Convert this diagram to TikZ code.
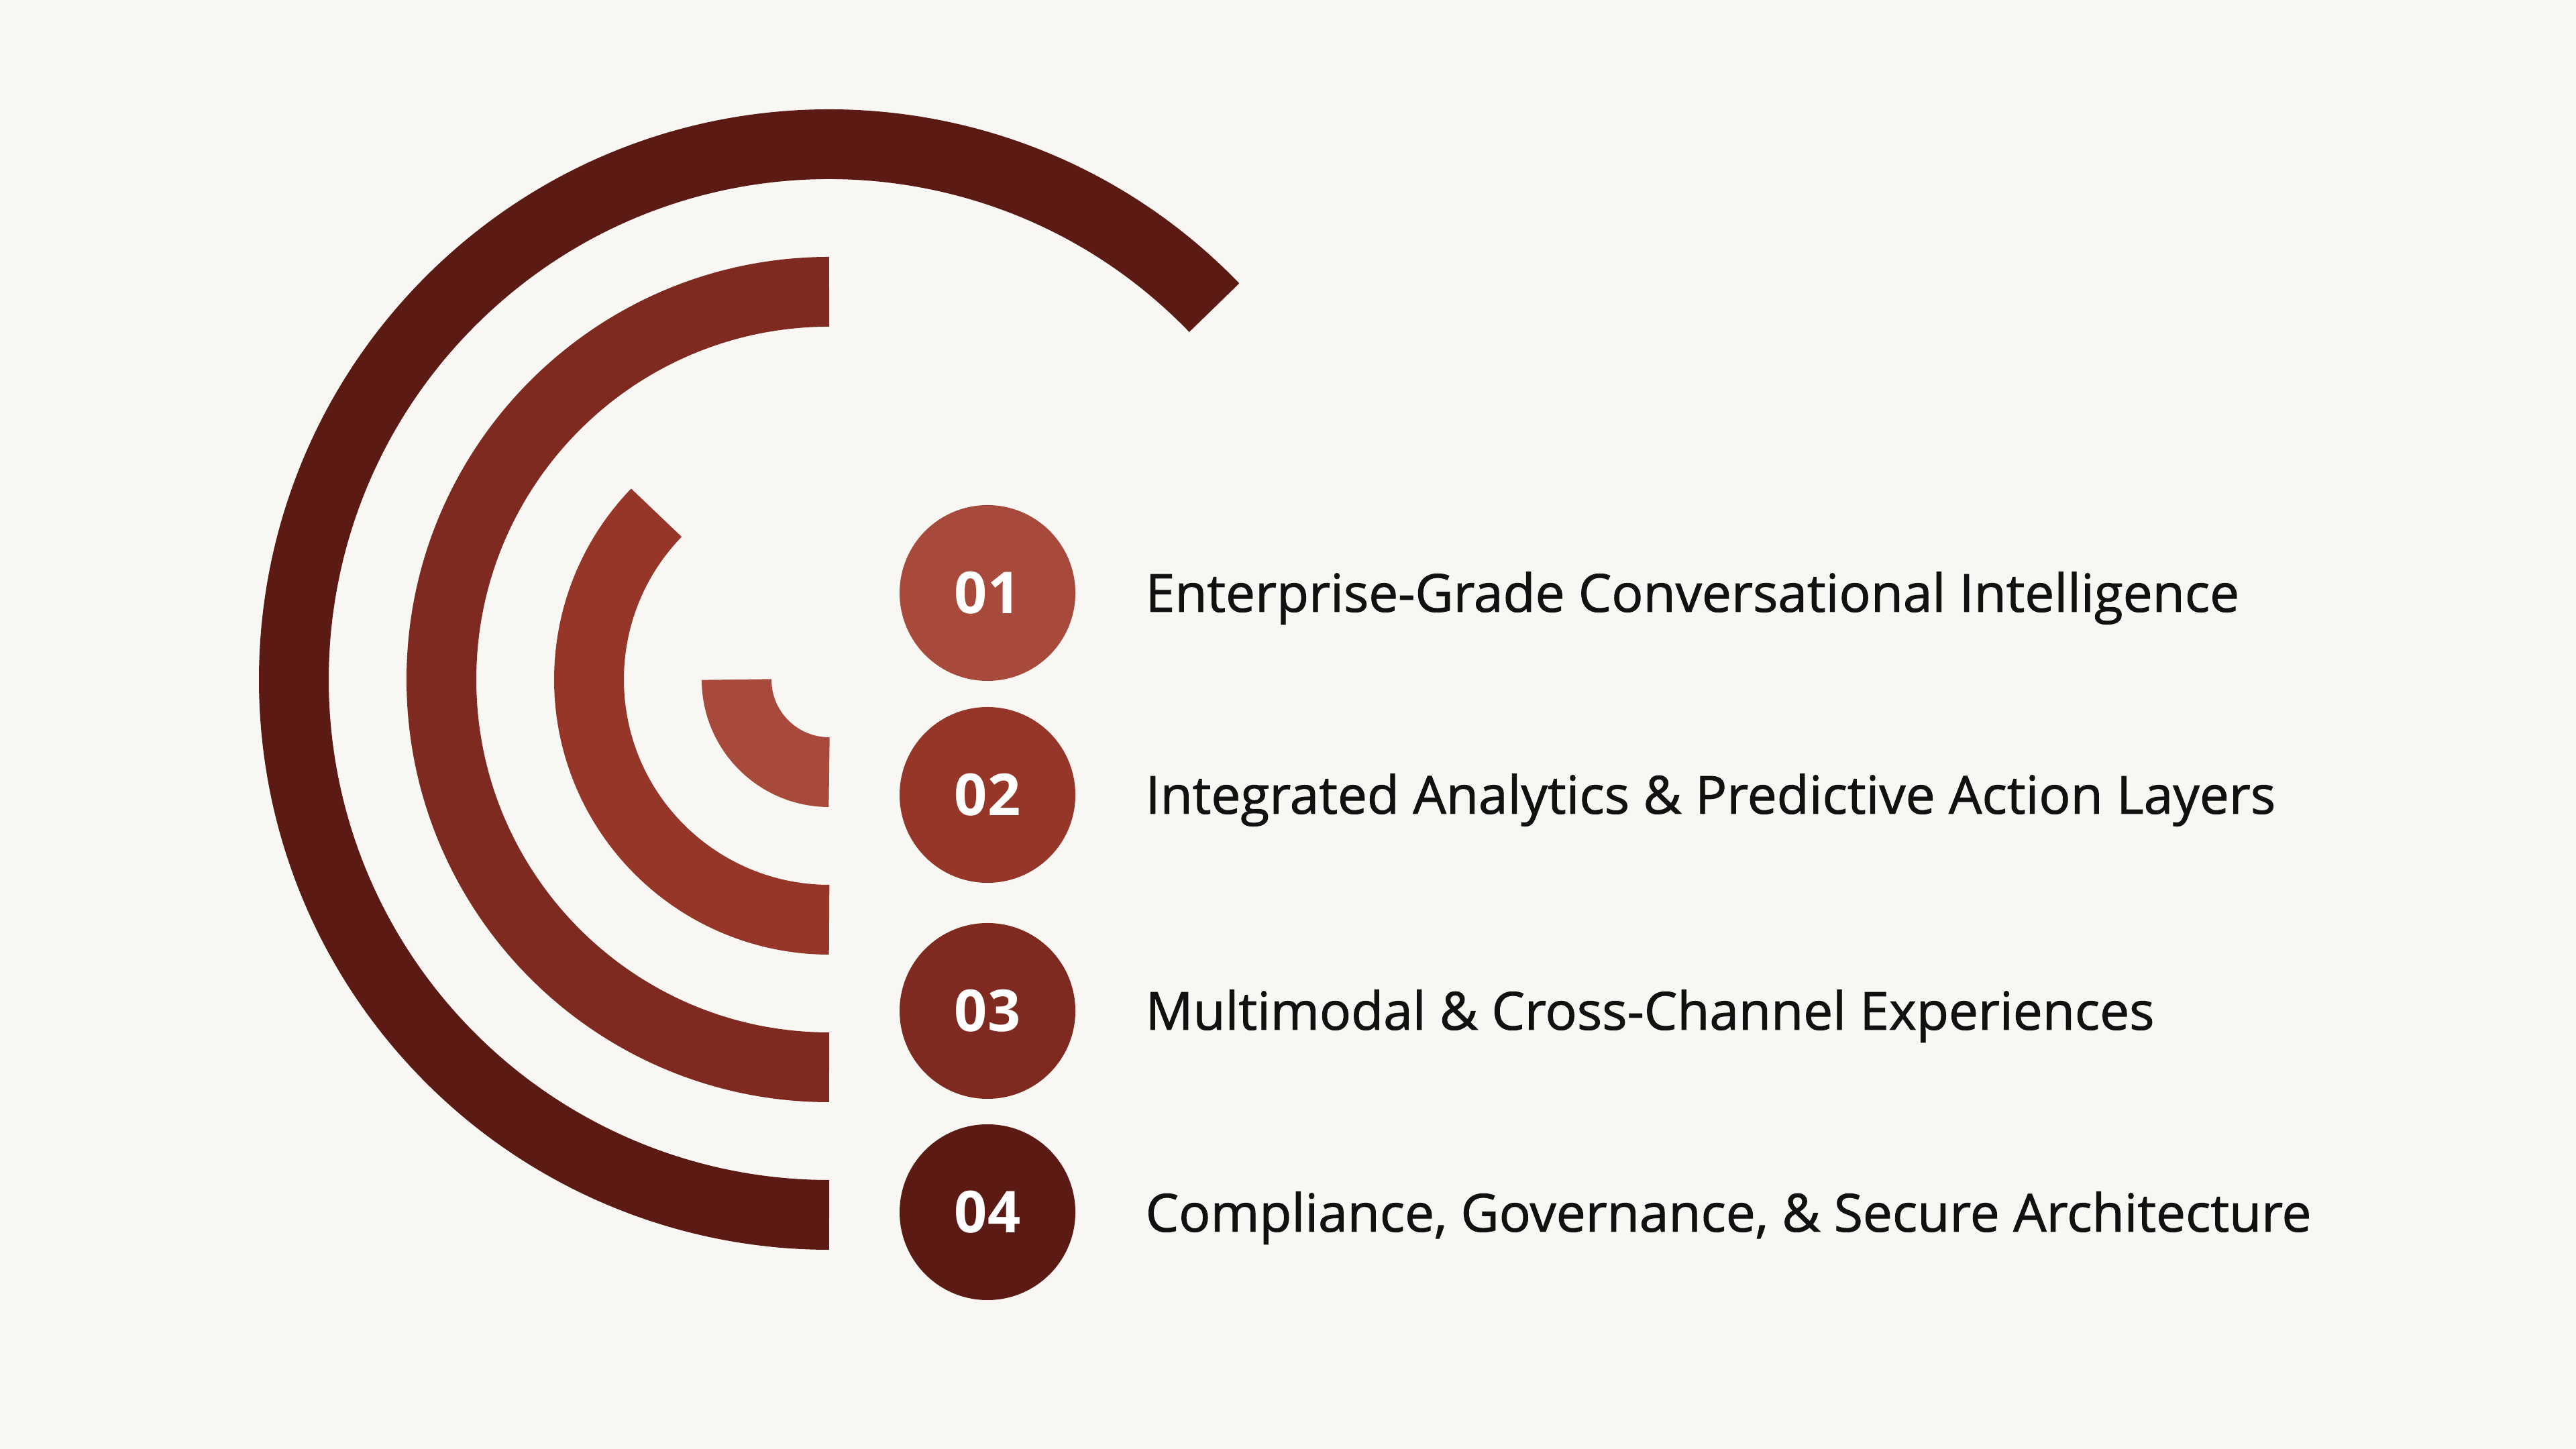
\documentclass[tikz,border=0pt]{standalone}
\usepackage{fontspec}
\setmainfont{Open Sans}
\newfontfamily\lblfont{Open Sans}[FakeBold=1.2]
\definecolor{bgc}{HTML}{F8F7F4}
\definecolor{cA}{HTML}{A84A3B}
\definecolor{cB}{HTML}{963629}
\definecolor{cC}{HTML}{7E2A21}
\definecolor{cD}{HTML}{5C1A14}
\definecolor{txt}{HTML}{111111}
\begin{document}
\begin{tikzpicture}[
  band/.style={line width=1.04cm, line cap=butt},
  badge/.style={circle, minimum size=2.62cm, inner sep=0pt},
  num/.style={text=white, font=\fontsize{24.5}{28}\selectfont\bfseries, inner sep=0pt},
  label/.style={text=txt, font=\lblfont\fontsize{22.3}{26}\selectfont, anchor=base west, inner sep=0pt}
]
\useasboundingbox (0,0) rectangle (38.4,21.6);
\fill[bgc] (0,0) rectangle (38.4,21.6);
\coordinate (O) at (12.36,11.47);
% arcs
\draw[band, cA] (O) ++(180:1.38) arc[start angle=180, end angle=270, radius=1.38];
\draw[band, cB] (O) ++(136:3.58) arc[start angle=136, end angle=270, radius=3.58];
\draw[band, cC] (O) ++(90:5.78) arc[start angle=90, end angle=270, radius=5.78];
\draw[band, cD] (O) ++(44:7.98) arc[start angle=44, end angle=270, radius=7.98];
% badges
\node[badge, fill=cA] (b1) at (14.72,12.76) {};
\node[badge, fill=cB] (b2) at (14.72,9.75) {};
\node[badge, fill=cC] (b3) at (14.72,6.53) {};
\node[badge, fill=cD] (b4) at (14.72,3.53) {};
\node[num] (n1) at (b1.center) {01};
\node[num] (n2) at (b2.center) {02};
\node[num] (n3) at (b3.center) {03};
\node[num] (n4) at (b4.center) {04};
% labels
\node[label] (t1) at (17.07,12.48) {Enterprise-Grade Conversational Intelligence};
\node[label] (t2) at (17.07,9.47) {Integrated Analytics \& Predictive Action Layers};
\node[label] (t3) at (17.07,6.25) {Multimodal \& Cross-Channel Experiences};
\node[label] (t4) at (17.07,3.24) {Compliance, Governance, \& Secure Architecture};
\end{tikzpicture}
\end{document}
